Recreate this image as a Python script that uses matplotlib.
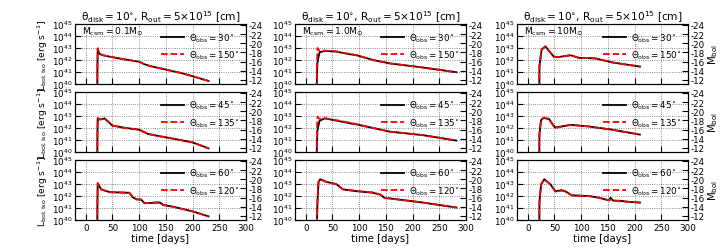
import numpy as np
import matplotlib.pyplot as plt

plt.rcParams['font.family'] = 'DejaVu Sans'
plt.rcParams['axes.unicode_minus'] = False
plt.rcParams['mathtext.default'] = 'regular'

# ── data: log10 L [erg/s] vs time [days] ─────────────────────
mcsm_labels = [r'$M_{csm}$$=$0.1$M_{\odot}$', r'$M_{csm}$$=$1.0$M_{\odot}$', r'$M_{csm}$$=$10$M_{\odot}$']
obs_pairs = [(30, 150), (45, 135), (60, 120)]

# column 1 : Mcsm = 0.1
t_c1 = [21.5, 22.0, 22.5, 25, 30, 40, 60, 80, 100, 110, 120, 150, 180, 200, 230]
c1r1_k = [38, 41.5, 42.95, 42.55, 42.42, 42.32, 42.15, 42.0, 41.85, 41.65, 41.5, 41.2, 40.9, 40.65, 40.25]
c1r1_r = [38, 41.5, 42.98, 42.55, 42.43, 42.32, 42.15, 42.0, 41.86, 41.65, 41.5, 41.2, 40.9, 40.65, 40.25]
t_c1b = [21.5, 22.0, 22.5, 25, 30, 35, 40, 50, 75, 100, 117, 140, 165, 200, 230]
c1r2_k = [38, 41.5, 42.8, 42.72, 42.72, 42.8, 42.62, 42.2, 42.0, 41.86, 41.5, 41.3, 41.1, 40.8, 40.3]
c1r2_r = [38, 41.5, 42.85, 42.72, 42.73, 42.82, 42.6, 42.2, 42.0, 41.86, 41.5, 41.3, 41.1, 40.8, 40.3]
t_c1c = [21.5, 22.0, 22.5, 29, 45, 82, 88, 95, 104, 110, 139, 145, 164, 200, 230]
c1r3_k = [38, 41.5, 43.05, 42.55, 42.32, 42.27, 41.9, 41.72, 41.7, 41.4, 41.45, 41.25, 41.1, 40.72, 40.3]
c1r3_r = [38, 41.5, 43.08, 42.55, 42.32, 42.27, 41.9, 41.72, 41.7, 41.4, 41.5, 41.25, 41.1, 40.72, 40.3]

# column 2 : Mcsm = 1.0
t_c2 = [20, 21, 22, 26, 36, 57, 82, 95, 126, 157, 220, 282]
c2r1_k = [38, 40.5, 41.8, 42.65, 42.75, 42.7, 42.48, 42.4, 42.0, 41.72, 41.37, 40.98]
c2r1_r = [38, 41.5, 43.0, 42.75, 42.78, 42.72, 42.5, 42.4, 42.0, 41.72, 41.37, 40.98]
c2r2_k = [38, 40.5, 41.8, 42.6, 42.8, 42.62, 42.4, 42.3, 42.0, 41.7, 41.4, 40.95]
c2r2_r = [38, 41.5, 42.95, 42.75, 42.82, 42.65, 42.45, 42.32, 42.0, 41.7, 41.4, 40.95]
t_c2c = [20, 22, 24, 27, 39, 57, 70, 95, 126, 140, 148, 157, 220, 282]
c2r3_k = [38, 41.5, 43.15, 43.4, 43.17, 43.0, 42.55, 42.4, 42.27, 42.1, 41.82, 41.8, 41.45, 41.04]
c2r3_r = [38, 41.5, 43.2, 43.42, 43.17, 42.98, 42.55, 42.42, 42.3, 42.12, 41.82, 41.8, 41.45, 41.04]

# column 3 : Mcsm = 10
t_c3 = [21.5, 22, 26, 33, 49, 58, 80, 96, 127, 158, 210]
c3r1_k = [38, 41.5, 42.85, 43.14, 42.27, 42.25, 42.4, 42.18, 42.13, 41.8, 41.45]
c3r1_r = [38, 41.5, 42.9, 43.12, 42.25, 42.25, 42.38, 42.18, 42.13, 41.8, 41.45]
t_c3b = [21.5, 22, 25, 30, 40, 51, 60, 80, 114, 158, 210]
c3r2_k = [38, 41.5, 42.65, 42.85, 42.75, 42.05, 42.1, 42.27, 42.13, 41.86, 41.45]
c3r2_r = [38, 41.5, 42.7, 42.87, 42.72, 42.0, 42.08, 42.25, 42.13, 41.86, 41.45]
t_c3c = [21.5, 22, 25, 31, 43, 52, 64, 70, 83, 114, 133, 152, 155, 160, 174, 185, 210]
c3r3_k = [38, 41.5, 42.95, 43.4, 42.95, 42.4, 42.49, 42.4, 42.05, 42.0, 41.86, 41.64, 41.86, 41.62, 41.6, 41.53, 41.45]
c3r3_r = [38, 41.5, 42.98, 43.38, 42.95, 42.35, 42.45, 42.38, 42.05, 42.0, 41.86, 41.64, 41.7, 41.62, 41.55, 41.53, 41.45]

series = [
    [(t_c1, c1r1_k, c1r1_r), (t_c1b, c1r2_k, c1r2_r), (t_c1c, c1r3_k, c1r3_r)],
    [(t_c2, c2r1_k, c2r1_r), (t_c2, c2r2_k, c2r2_r), (t_c2c, c2r3_k, c2r3_r)],
    [(t_c3, c3r1_k, c3r1_r), (t_c3b, c3r2_k, c3r2_r), (t_c3c, c3r3_k, c3r3_r)],
]

W, H = 724, 253
fig = plt.figure(figsize=(W / 100, H / 100), dpi=100)

col_left = [75, 295, 517]
col_w = 171
row_top = [25, 93, 161]
row_h = 60

for c in range(3):
    for r in range(3):
        x0 = col_left[c] / W
        y0 = 1 - (row_top[r] + row_h) / H
        ax = fig.add_axes([x0, y0, col_w / W, row_h / H])
        t, lk, lr = series[c][r]
        a, b = obs_pairs[r]
        ax.plot(t, 10 ** np.array(lk), color='k', lw=1.3,
                label=r'$\Theta_{obs}$$=$' + f'{a}' + r'$^{\circ}$')
        ax.plot(t, 10 ** np.array(lr), color='r', lw=1.3, ls='--',
                label=r'$\Theta_{obs}$$=$' + f'{b}' + r'$^{\circ}$')
        ax.set_yscale('log')
        ax.set_ylim(1e40, 1e45)
        ax.set_xlim(-20, 300)
        ax.set_xticks([0, 50, 100, 150, 200, 250, 300])
        ax.set_yticks([1e40, 1e41, 1e42, 1e43, 1e44, 1e45])
        ax.grid(True, ls=':', color='k', lw=0.6, alpha=0.6)
        ax.tick_params(which='both', direction='in', labelsize=6.3, pad=2)
        ax.tick_params(which='major', length=4)
        ax.tick_params(which='minor', length=2)
        ax.legend(loc='upper right', frameon=False, fontsize=6.3,
                  handlelength=2.6, handletextpad=0.5,
                  borderaxespad=0.4, labelspacing=0.55)
        if r < 2:
            ax.tick_params(labelbottom=False)
        else:
            ax.set_xlabel('time [days]', fontsize=7.3, labelpad=1)
        if c == 0:
            ax.set_ylabel(r'$L_{bol,iso}$ [erg s$^{-1}$]', fontsize=6.6, labelpad=1)
        if r == 0:
            ax.set_title(r'$\theta_{disk}$$=$10$^{\circ}$, $R_{out}$$=$5$\times$10$^{15}$ [cm]',
                         fontsize=7.6, pad=2)
            ax.text(0.04, 0.84, mcsm_labels[c], transform=ax.transAxes, fontsize=6.6)

        axr = ax.twinx()
        axr.set_ylim(-11.1, -24.2)
        axr.set_yticks([-24, -22, -20, -18, -16, -14, -12])
        axr.tick_params(direction='in', labelsize=6.3, pad=2, length=4)
        if c == 2:
            axr.set_ylabel(r'$M_{bol}$', fontsize=7.3, labelpad=1)

fig.savefig('out.png', dpi=100)
